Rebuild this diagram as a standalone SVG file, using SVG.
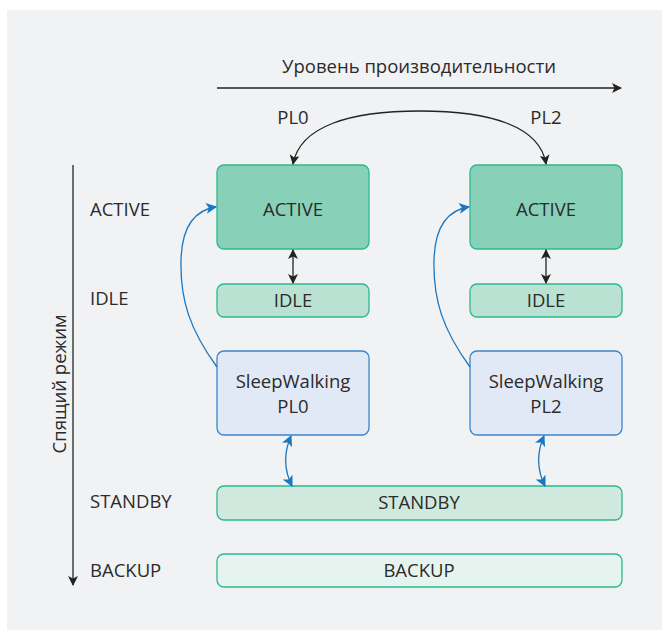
<svg xmlns="http://www.w3.org/2000/svg" width="662" height="630" viewBox="0 0 662 630">
  <style>
    text { font-family: "Open Sans", "Noto Sans", "Liberation Sans", sans-serif; font-size: 18.5px; fill: #2b2b2b; }
    .c { text-anchor: middle; }
    .active { fill: #88d0b7; stroke: #2cb88f; stroke-width: 1.3; }
    .idle { fill: #b9e2d2; stroke: #2cb88f; stroke-width: 1.3; }
    .sw { fill: #e2e9f6; stroke: #3b85cc; stroke-width: 1.3; }
    .standby { fill: #cfe9de; stroke: #2cb88f; stroke-width: 1.3; }
    .backup { fill: #e5f4ee; stroke: #2cb88f; stroke-width: 1.3; }
    .blk { fill: none; stroke: #222; stroke-width: 1.3; }
    .blue { fill: none; stroke: #1a78c2; stroke-width: 1.3; }
  </style>
  <defs>
    <marker id="ah" viewBox="0 0 10 10" refX="9" refY="5" markerWidth="10" markerHeight="10" markerUnits="userSpaceOnUse" orient="auto-start-reverse">
      <path d="M0,0 L10,5 L0,10 L2.5,5 z" fill="#222"/>
    </marker>
    <marker id="ahb" viewBox="0 0 10 10" refX="9" refY="5" markerWidth="11" markerHeight="11" markerUnits="userSpaceOnUse" orient="auto-start-reverse">
      <path d="M0,0 L10,5 L0,10 L2.5,5 z" fill="#1a78c2"/>
    </marker>
  </defs>

  <rect x="7" y="10" width="655" height="620" fill="#f1f2f4"/>

  <!-- axes -->
  <g id="axes">
    <text class="c" x="419" y="73">Уровень производительности</text>
    <line class="blk" x1="217" y1="88" x2="621" y2="88" marker-end="url(#ah)"/>
    <line class="blk" x1="73" y1="165" x2="73" y2="585" marker-end="url(#ah)"/>
    <text class="c" transform="translate(66,384) rotate(-90)">Спящий режим</text>
  </g>

  <!-- row labels -->
  <g id="row-labels">
    <text x="90" y="216">ACTIVE</text>
    <text x="90" y="305">IDLE</text>
    <text x="90" y="508">STANDBY</text>
    <text x="90" y="577">BACKUP</text>
    <text class="c" x="293" y="124">PL0</text>
    <text class="c" x="546" y="124">PL2</text>
  </g>

  <!-- nodes -->
  <g id="active-pl0">
    <rect class="active" x="217" y="165" width="152" height="84" rx="7"/>
    <text class="c" x="293" y="216">ACTIVE</text>
  </g>
  <g id="active-pl2">
    <rect class="active" x="470" y="165" width="152" height="84" rx="7"/>
    <text class="c" x="546" y="216">ACTIVE</text>
  </g>
  <g id="idle-pl0">
    <rect class="idle" x="217" y="284" width="152" height="33" rx="7"/>
    <text class="c" x="293" y="307">IDLE</text>
  </g>
  <g id="idle-pl2">
    <rect class="idle" x="470" y="284" width="152" height="33" rx="7"/>
    <text class="c" x="546" y="307">IDLE</text>
  </g>
  <g id="sleepwalking-pl0">
    <rect class="sw" x="217" y="351" width="152" height="84" rx="7"/>
    <text class="c" x="293" y="388">SleepWalking</text>
    <text class="c" x="293" y="413">PL0</text>
  </g>
  <g id="sleepwalking-pl2">
    <rect class="sw" x="470" y="351" width="152" height="84" rx="7"/>
    <text class="c" x="546" y="388">SleepWalking</text>
    <text class="c" x="546" y="413">PL2</text>
  </g>
  <g id="standby">
    <rect class="standby" x="217" y="486" width="405" height="34" rx="7"/>
    <text class="c" x="419" y="509">STANDBY</text>
  </g>
  <g id="backup">
    <rect class="backup" x="217" y="554" width="405" height="33" rx="7"/>
    <text class="c" x="419" y="577">BACKUP</text>
  </g>

  <!-- connectors -->
  <g id="connectors">
    <path class="blk" d="M293,164 C300,126 350,111 420,111 C490,111 540,126 546,164" marker-start="url(#ah)" marker-end="url(#ah)"/>
    <line class="blk" x1="293" y1="250" x2="293" y2="283" marker-start="url(#ah)" marker-end="url(#ah)"/>
    <line class="blk" x1="546" y1="250" x2="546" y2="283" marker-start="url(#ah)" marker-end="url(#ah)"/>
    <path class="blue" d="M217,367 C190,330 180,300 181,260 C182,225 195,210 216,207" marker-end="url(#ahb)"/>
    <path class="blue" d="M470,367 C443,330 433,300 434,260 C435,225 448,210 469,207" marker-end="url(#ahb)"/>
    <path class="blue" d="M291,436 C284,452 284,470 292,486" marker-start="url(#ahb)" marker-end="url(#ahb)"/>
    <path class="blue" d="M544,436 C537,452 537,470 545,486" marker-start="url(#ahb)" marker-end="url(#ahb)"/>
  </g>
</svg>
